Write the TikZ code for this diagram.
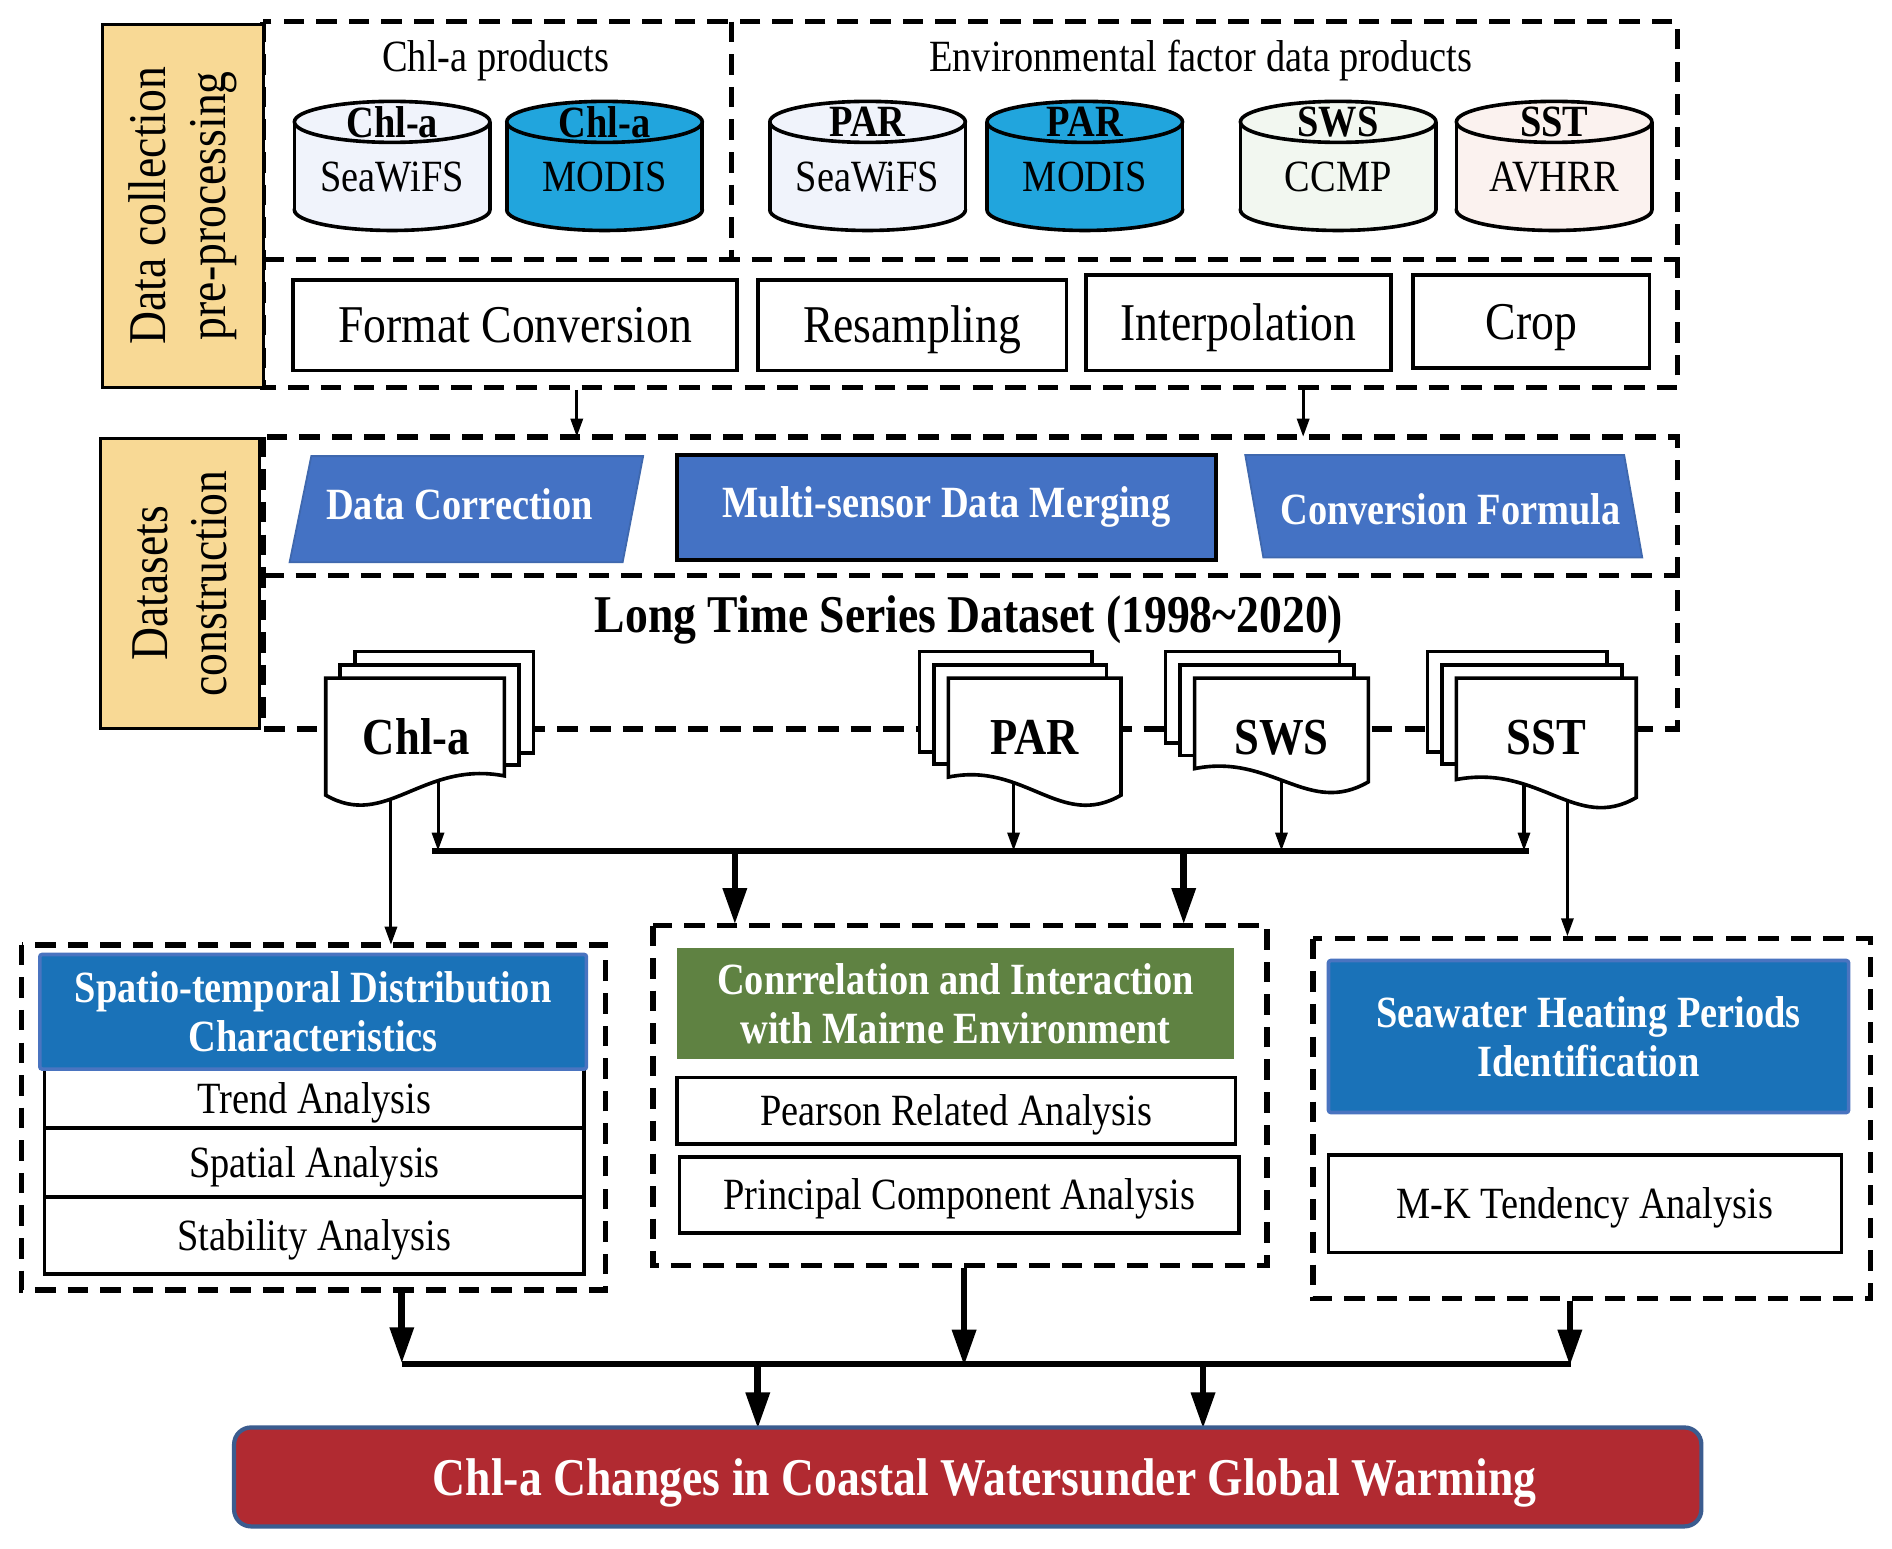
\documentclass[tikz,border=0pt]{standalone}
\usepackage{fontspec}
\setmainfont{Liberation Serif}[FakeStretch=0.86]
\usetikzlibrary{arrows.meta}
\definecolor{ylw}{HTML}{F8D995}
\definecolor{cylA}{HTML}{F0F3FB}
\definecolor{cylM}{HTML}{21A5DD}
\definecolor{cylG}{HTML}{F2F7F0}
\definecolor{cylP}{HTML}{FBF2EF}
\definecolor{dsblue}{HTML}{4472C4}
\definecolor{dsedge}{HTML}{3F68AE}
\definecolor{hdblue}{HTML}{1A72B8}
\definecolor{hdedge}{HTML}{4A74C0}
\definecolor{grn}{HTML}{5F8242}
\definecolor{redA}{HTML}{B12A31}
\definecolor{rededge}{HTML}{3B5C8F}

\newcommand\fL{\fontsize{44}{49}\selectfont}
\newcommand\fM{\fontsize{37}{40}\selectfont}
\newcommand\fLB{\bfseries\fontsize{44}{49}\selectfont}
\newcommand\fMB{\bfseries\fontsize{37}{41}\selectfont}
\newcommand\fDB{\bfseries\fontsize{43}{48}\selectfont}

% cylinder: #1 name, #2 cx, #3 fill, #4 top text, #5 bottom text
\newcommand\mycyl[5]{%
 \filldraw[cylline,fill=#3] (#2,174) ellipse [x radius=81pt, y radius=17pt];
 \fill[#3] ({#2-81},101) rectangle ({#2+81},174);
 \draw[cylline] ({#2-81},101) -- ({#2-81},174) ({#2+81},101) -- ({#2+81},174);
 \filldraw[cylline,fill=#3] (#2,101) ellipse [x radius=81pt, y radius=17pt];
 \node[font=\fMB] (#1top) at (#2,101) {#4};
 \node[font=\fM] (#1) at (#2,147) {#5};
}
% document stack, dip on right, back sheets to the left
% #1 name #2 x0 #3 x1 #4 dx #5 yL #6 yR #7 b3 #8 label
\newcommand\docR[8]{%
 \filldraw[docline,fill=white] ({#2+2*#4},540) rectangle ({#3+2*#4},#7);
 \filldraw[docline,fill=white] ({#2+#4},551) rectangle ({#3+#4},{#7+10});
 \filldraw[docline,fill=white] (#2,562) -- (#3,562) -- (#3,#6) .. controls ({#3-50},{#6+29}) and ({#3-80},{#5-13}) .. (#2,#5) -- cycle;
 \node[font=\fDB, ctext=28.5pt] (#1) at ({(#2+#3)/2},611) {#8};
}
\newcommand\docL[8]{%
 \filldraw[docline,fill=white] ({#2+2*#4},540) rectangle ({#3+2*#4},#7);
 \filldraw[docline,fill=white] ({#2+#4},551) rectangle ({#3+#4},{#7+10});
 \filldraw[docline,fill=white] (#2,562) -- (#3,562) -- (#3,#6) .. controls ({#2+80},{#6-13}) and ({#2+50},{#5+29}) .. (#2,#5) -- cycle;
 \node[font=\fDB, ctext=28.5pt] (#1) at ({(#2+#3)/2+1},611) {#8};
}

\begin{document}
\begin{tikzpicture}[x=1pt,y=-1pt,
  dashbox/.style={line width=4.5pt, dash pattern=on 17pt off 10pt},
  ybox/.style={draw, line width=2.5pt, fill=ylw, inner sep=0pt},
  ctext/.style={text height=#1, text depth=0pt},
  pbox/.style={draw, line width=3pt, fill=white, inner sep=0pt, font=\fL, ctext=29pt},
  rowbox/.style={draw, line width=3pt, fill=white, inner sep=0pt, font=\fM, ctext=24.5pt},
  cylline/.style={line width=3pt},
  docline/.style={line width=3pt, line join=miter},
  thinarr/.style={line width=2.5pt, -{Triangle[width=10pt,length=15pt]}},
  thickarr/.style={line width=5.5pt, -{Triangle[width=19pt,length=30pt]}},
  bus/.style={line width=5pt},
  wtext/.style={text=white, font=\fMB, align=center},
]
\useasboundingbox (0,0) rectangle (1568,1283);
\fill[white] (0,0) rectangle (1568,1283);

% ---------- Section 1 ----------
\draw[dashbox] (218,18) rectangle (1390,321);
\draw[dashbox] (218,215) -- (1390,215);
\draw[dashbox] (606,18) -- (606,215);
\node[ybox, minimum width=133pt, minimum height=301pt] (y1) at (151.5,170.5) {};
\node[rotate=90, align=center, font=\fL] (y1t) at (y1) {Data collection\\pre-processing};

\node[font=\fM] (chlprod) at (411,50) {Chl-a products};
\node[font=\fM] (envprod) at (995,50) {Environmental factor data products};

\mycyl{c1}{325}{cylA}{Chl-a}{SeaWiFS}
\mycyl{c2}{501}{cylM}{Chl-a}{MODIS}
\mycyl{c3}{719}{cylA}{PAR}{SeaWiFS}
\mycyl{c4}{899}{cylM}{PAR}{MODIS}
\mycyl{c5}{1109}{cylG}{SWS}{CCMP}
\mycyl{c6}{1288}{cylP}{SST}{AVHRR}

\node[pbox, minimum width=368pt, minimum height=75pt] (fc) at (427,269.5) {Format Conversion};
\node[pbox, minimum width=256pt, minimum height=75pt] (rs) at (756,269.5) {Resampling};
\node[pbox, minimum width=253pt, minimum height=79pt] (ip) at (1026.5,267.5) {Interpolation};
\node[pbox, minimum width=196pt, minimum height=77pt] (cr) at (1269,266.5) {Crop};

\coordinate (a1s) at (478,323); \coordinate (a1e) at (478,362);
\coordinate (a2s) at (1080,323); \coordinate (a2e) at (1080,362);
\draw[thinarr] (a1s) -- (a1e);
\draw[thinarr] (a2s) -- (a2e);

% ---------- Section 2 ----------
\draw[dashbox] (218,362) rectangle (1390,604);
\draw[dashbox] (218,477) -- (1390,477);
\node[ybox, minimum width=132pt, minimum height=241pt] (y2) at (149,483.5) {};
\node[rotate=90, align=center, font=\fL, text depth=0pt] (y2t) at (y2) {Datasets\\construction};

\filldraw[fill=dsblue, draw=dsedge, line width=1.5pt] (258,378) -- (533,378) -- (516,466) -- (240,466) -- cycle;
\node[wtext] (dcor) at (381,418) {Data Correction};
\node[draw=black, line width=3pt, fill=dsblue, minimum width=447pt, minimum height=87pt, inner sep=0pt, wtext] (merge) at (784.5,420.5) {Multi-sensor Data Merging};
\filldraw[fill=dsblue, draw=dsedge, line width=1.5pt] (1032,377) -- (1346,377) -- (1361,462) -- (1047,462) -- cycle;
\node[wtext] (cform) at (1202,422) {Conversion Formula};

\node[font=\fLB, ctext=29pt] (lts) at (803,510) {Long Time Series Dataset (1998\textasciitilde2020)};

% connectors from documents (drawn before documents)
\coordinate (d1a) at (324,640); \coordinate (d1b) at (324,783);
\coordinate (d2a) at (363,630); \coordinate (d2b) at (363,705);
\coordinate (d3a) at (840,640); \coordinate (d3b) at (840,705);
\coordinate (d4a) at (1062,630); \coordinate (d4b) at (1062,705);
\coordinate (d5a) at (1263,640); \coordinate (d5b) at (1263,705);
\coordinate (d6a) at (1299,640); \coordinate (d6b) at (1299,776);
\draw[thinarr] (d1a) -- (d1b);
\draw[thinarr] (d2a) -- (d2b);
\draw[thinarr] (d3a) -- (d3b);
\draw[thinarr] (d4a) -- (d4b);
\draw[thinarr] (d5a) -- (d5b);
\draw[thinarr] (d6a) -- (d6b);

\docL{chl}{270}{418}{12}{659}{643}{624}{Chl-a}
\docR{par}{786}{929}{-12}{644}{659}{623}{PAR}
\docR{sws}{990}{1134}{-12}{637}{648}{616}{SWS}
\docR{sst}{1207}{1356}{-12}{646}{661}{623}{SST}

\coordinate (busL) at (358,705); \coordinate (busR) at (1267,705);
\draw[bus] (busL) -- (busR);
\coordinate (b1s) at (609,705); \coordinate (b1e) at (609,766);
\coordinate (b2s) at (981,705); \coordinate (b2e) at (981,766);
\draw[thickarr] (b1s) -- (b1e);
\draw[thickarr] (b2s) -- (b2e);

% ---------- Section 3 ----------
\draw[dashbox] (18,783) rectangle (502,1069);
\node[rowbox, minimum width=447pt, minimum height=49pt] (trend) at (260.5,910.5) {Trend Analysis};
\node[rowbox, minimum width=447pt, minimum height=57pt] (spat) at (260.5,963.5) {Spatial Analysis};
\node[rowbox, minimum width=447pt, minimum height=64pt] (stab) at (260.5,1024) {Stability Analysis};
\node[fill=hdblue, draw=hdedge, line width=3pt, rounded corners=2pt, minimum width=453pt, minimum height=95pt, inner sep=0pt, wtext] (hd1) at (259.5,838.5) {Spatio-temporal Distribution\\Characteristics};

\draw[dashbox] (541,767) rectangle (1050,1049);
\node[fill=grn, minimum width=462pt, minimum height=92pt, inner sep=0pt, wtext] (hd2) at (792,832) {Conrrelation and Interaction\\with Mairne Environment};
\node[rowbox, minimum width=463pt, minimum height=55pt] (pear) at (792.5,920.5) {Pearson Related Analysis};
\node[rowbox, minimum width=464pt, minimum height=63pt] (pca) at (795,990.5) {Principal Component Analysis};

\draw[dashbox] (1088,778) rectangle (1550,1076);
\node[fill=hdblue, draw=hdedge, line width=3pt, rounded corners=2pt, minimum width=431pt, minimum height=126pt, inner sep=0pt, wtext] (hd3) at (1316.5,859) {Seawater Heating Periods\\Identification};
\node[rowbox, minimum width=425pt, minimum height=81pt] (mk) at (1313.5,997.5) {M-K Tendency Analysis};

% ---------- bottom ----------
\coordinate (e1s) at (333,1071); \coordinate (e1e) at (333,1130);
\coordinate (e2s) at (799,1051); \coordinate (e2e) at (799,1132);
\coordinate (e3s) at (1301,1078); \coordinate (e3e) at (1301,1132);
\draw[thickarr] (e1s) -- (e1e);
\draw[thickarr] (e2s) -- (e2e);
\draw[thickarr] (e3s) -- (e3e);
\coordinate (bus2L) at (333,1130); \coordinate (bus2R) at (1302,1130);
\draw[bus] (bus2L) -- (bus2R);
\coordinate (f1s) at (628,1130); \coordinate (f1e) at (628,1184);
\coordinate (f2s) at (997,1130); \coordinate (f2e) at (997,1184);
\draw[thickarr] (f1s) -- (f1e);
\draw[thickarr] (f2s) -- (f2e);

\node[fill=redA, draw=rededge, line width=3.5pt, rounded corners=14pt, minimum width=1216pt, minimum height=82pt, inner sep=0pt] (final) at (802,1224) {};
\node[text=white, font=\fLB, ctext=29pt] (finalt) at (816,1225) {Chl-a Changes in Coastal Watersunder Global Warming};
\end{tikzpicture}
\end{document}
